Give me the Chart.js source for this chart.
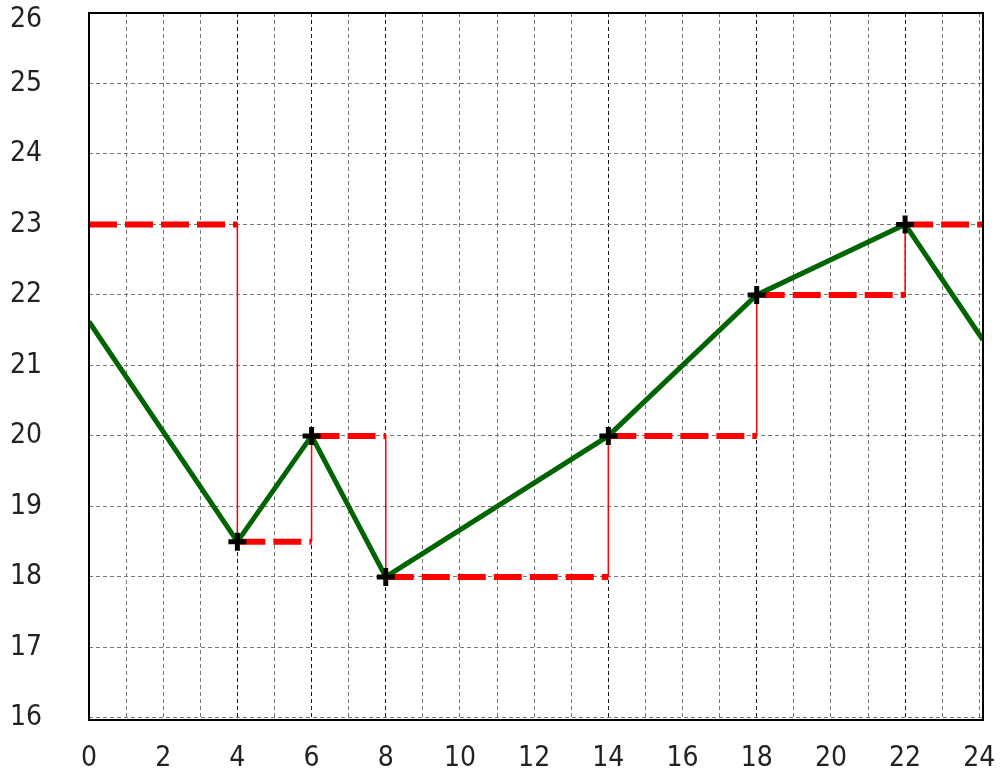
<!DOCTYPE html>
<html>
  <head>
    <title>Step chart</title>
    <script src="https://cdn.jsdelivr.net/npm/chart.js"></script>
    <style>
      body { margin: 0; background: #fff; }
    </style>
  </head>
  <body>
    <canvas id="stepChart" width="1001" height="769"></canvas>

    <script>
      // green line (measured series)
      var greenX = [0, 4, 6, 8, 14, 18, 22, 24.1];
      var greenY = [21.62, 18.5, 20, 18, 20, 22, 23, 21.36];

      // red step line: level i holds from stepX[i] to stepX[i+1]
      var stepX = [0, 4, 6, 8, 14, 18, 22, 24.1];
      var stepY = [23, 18.5, 20, 18, 20, 22, 23];

      // axes
      var xGrid = [0, 1, 2, 3, 4, 5, 6, 7, 8, 9, 10, 11, 12, 13, 14, 15, 16, 17, 18, 19, 20, 21, 22, 23, 24];
      var xLabels = [0, 2, 4, 6, 8, 10, 12, 14, 16, 18, 20, 22, 24];
      var xMarked = [4, 6, 8, 14, 18, 22];
      var yTicks = [16, 17, 18, 19, 20, 21, 22, 23, 24, 25, 26];

      // horizontal dashed pieces, separated by null gaps
      var stepLevels = [];
      for (var i = 0; i < stepY.length; i++) {
        stepLevels.push({ x: stepX[i], y: stepY[i] });
        stepLevels.push({ x: stepX[i + 1], y: stepY[i] });
        stepLevels.push({ x: stepX[i + 1], y: null });
      }
      // thin vertical jumps between levels
      var stepJumps = [];
      for (var j = 0; j < stepY.length - 1; j++) {
        stepJumps.push({ x: stepX[j + 1], y: stepY[j] });
        stepJumps.push({ x: stepX[j + 1], y: stepY[j + 1] });
        stepJumps.push({ x: stepX[j + 1], y: null });
      }
      var greenPoints = greenX.map(function (x, k) {
        return { x: x, y: greenY[k] };
      });

      var framePlugin = {
        id: "frame",
        beforeDraw: function (chart) {
          // keep the top y label inside the canvas
          chart.scales.y.getLabelItems().forEach(function (item) {
            if (item.options.translation[1] < 20) item.options.translation[1] = 20;
          });
        },
        afterDraw: function (chart) {
          var a = chart.chartArea;
          var ctx = chart.ctx;
          ctx.save();
          ctx.strokeStyle = "#000";
          ctx.lineWidth = 2;
          ctx.strokeRect(a.left, a.top, a.right - a.left, a.bottom - a.top);
          ctx.restore();
        },
      };

      var labelFont = { family: "'Liberation Sans Narrow', 'DejaVu Sans Condensed', Arial", size: 28 };

      new Chart(document.getElementById("stepChart").getContext("2d"), {
        type: "line",
        data: {
          datasets: [
            {
              data: greenPoints,
              borderColor: "#006400",
              borderWidth: 5,
              pointStyle: "cross",
              pointRadius: function (ctx) {
                return ctx.dataIndex === 0 || ctx.dataIndex === greenX.length - 1 ? 0 : 9;
              },
              pointBorderColor: "#000",
              pointBorderWidth: 5,
              tension: 0,
              clip: 0,
              order: 0,
            },
            {
              data: stepLevels,
              borderColor: "#ff0000",
              borderWidth: 6,
              borderDash: [28, 8],
              pointRadius: 0,
              spanGaps: false,
              clip: 0,
              order: 1,
            },
            {
              data: stepJumps,
              borderColor: "#ff0000",
              borderWidth: 1.5,
              pointRadius: 0,
              spanGaps: false,
              clip: 0,
              order: 2,
            },
          ],
        },
        options: {
          responsive: false,
          animation: false,
          layout: {
            autoPadding: false,
            padding: { left: 10, top: 13, right: 18, bottom: 0 },
          },
          plugins: {
            legend: { display: false },
            tooltip: { enabled: false },
          },
          scales: {
            x: {
              type: "linear",
              min: 0,
              max: 24.1,
              afterBuildTicks: function (axis) {
                axis.ticks = xGrid.map(function (v) { return { value: v }; });
              },
              afterFit: function (axis) {
                axis.height = 49;
                axis.paddingLeft = 0;
                axis.paddingRight = 0;
              },
              ticks: {
                autoSkip: false,
                maxRotation: 0,
                padding: 22,
                color: "#222",
                font: labelFont,
                callback: function (value) {
                  return xLabels.indexOf(value) >= 0 ? String(value) : "";
                },
              },
              grid: {
                drawTicks: false,
                lineWidth: 1,
                color: function (ctx) {
                  return ctx.tick && xMarked.indexOf(ctx.tick.value) >= 0 ? "#1a1a1a" : "#777";
                },
              },
              border: { display: false, dash: [4, 3] },
            },
            y: {
              min: 15.97,
              max: 26,
              afterBuildTicks: function (axis) {
                axis.ticks = yTicks.map(function (v) { return { value: v }; });
              },
              afterFit: function (axis) {
                axis.width = 79;
                axis.paddingTop = 0;
                axis.paddingBottom = 0;
              },
              ticks: {
                crossAlign: "far",
                color: "#222",
                font: labelFont,
              },
              grid: {
                drawTicks: false,
                lineWidth: 1,
                color: "#777",
              },
              border: { display: false, dash: [4, 3] },
            },
          },
        },
        plugins: [framePlugin],
      });
    </script>
  </body>
</html>
